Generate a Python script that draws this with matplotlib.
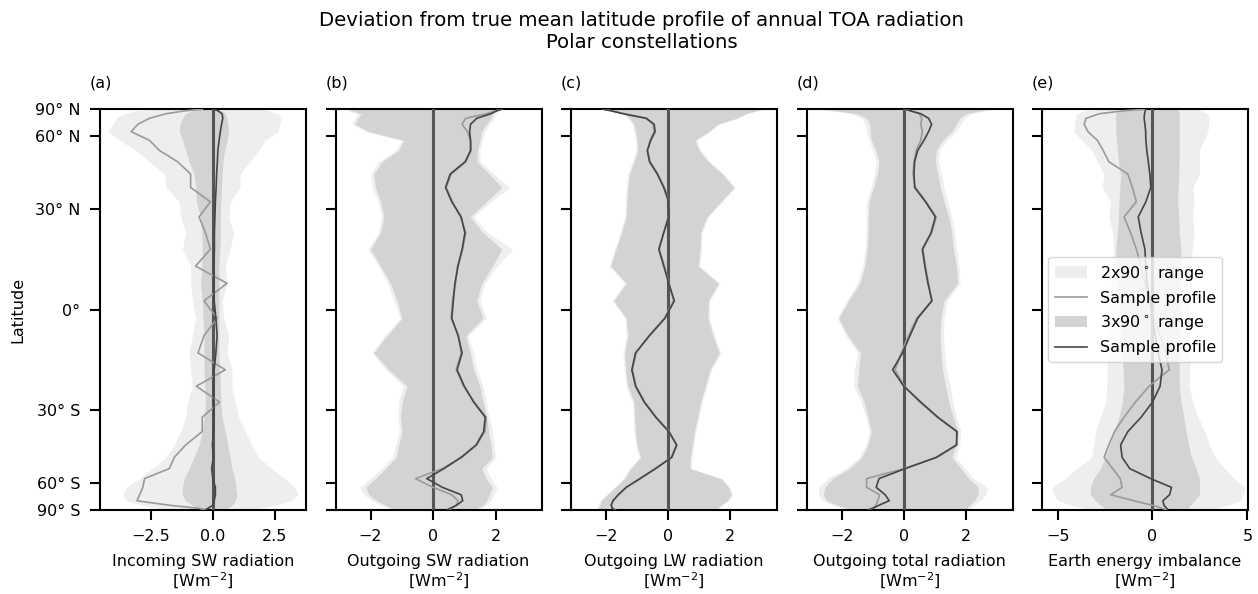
import numpy as np
import matplotlib
matplotlib.use("Agg")
import matplotlib.pyplot as plt

# Latitude bin centres (degrees), north to south
lat = [87.5, 82.5, 77.5, 72.5, 67.5, 62.5, 57.5, 52.5, 47.5, 42.5, 37.5, 32.5,
       27.5, 22.5, 17.5, 12.5, 7.5, 2.5, -2.5, -7.5, -12.5, -17.5, -22.5, -27.5,
       -32.5, -37.5, -42.5, -47.5, -52.5, -57.5, -62.5, -67.5, -72.5, -77.5, -82.5, -87.5]

# (a) Incoming SW radiation
isw_lo2 = [-2.2, -3.1, -3.63, -3.9, -4.03, -4.23, -3.76, -3.1, -2.56, -1.96, -1.9, -1.36,
           -1.3, -1.1, -1.23, -0.9, -0.9, -0.83, -0.7, -0.83, -0.96, -0.9, -0.83, -1.03,
           -1.1, -1.3, -1.56, -1.9, -2.43, -2.96, -3.5, -3.63, -3.5, -2.83, -2.16, -1.76]
isw_hi2 = [1.84, 2.24, 2.64, 2.75, 2.7, 2.64, 2.1, 1.84, 1.5, 1.1, 1.1, 0.7,
           0.64, 0.84, 0.7, 0.5, 0.57, 0.37, 0.44, 0.64, 0.57, 0.77, 0.77, 0.9,
           1.04, 1.3, 1.57, 1.84, 2.37, 2.9, 3.3, 3.44, 3.17, 2.5, 1.84, 1.04]
isw_lo3 = [-0.56, -0.83, -1.1, -1.23, -1.33, -1.36, -1.23, -1.1, -0.96, -0.76, -0.7, -0.67,
           -0.5, -0.45, -0.43, -0.45, -0.5, -0.43, -0.4, -0.36, -0.36, -0.36, -0.33, -0.3,
           -0.36, -0.43, -0.56, -0.76, -0.96, -1.16, -1.23, -1.23, -1.1, -0.83, -0.56, -0.36]
isw_hi3 = [0.17, 0.37, 0.5, 0.57, 0.6, 0.64, 0.57, 0.47, 0.41, 0.37, 0.35, 0.32,
           0.3, 0.3, 0.28, 0.24, 0.24, 0.24, 0.24, 0.24, 0.24, 0.27, 0.3, 0.32,
           0.37, 0.5, 0.6, 0.7, 0.77, 0.88, 0.93, 0.97, 0.9, 0.77, 0.6, 0.44]
isw_s2 = [-0.43, -1.1, -1.9, -2.56, -3.03, -3.3, -2.56, -2.16, -1.43, -0.9, -0.9, -0.1,
          -0.56, -0.3, -0.1, -0.7, 0.57, -0.36, 0.17, -0.36, -0.6, 0.5, -0.67, 0.27,
          -0.43, -0.43, -1.1, -1.56, -1.76, -2.76, -2.83, -2.96, -3.07, -1.76, -0.56, -0.3]
isw_s3 = [0.0, 0.2, 0.37, 0.4, 0.35, 0.3, 0.25, 0.2, 0.18, 0.15, 0.13, 0.1,
          0.08, 0.06, 0.06, 0.04, 0.05, 0.05, 0.12, 0.17, 0.12, 0.05, 0.02, 0.03,
          0.05, 0.02, -0.02, 0.02, -0.05, 0.0, 0.1, 0.1, 0.05, 0.0, -0.2, -0.3]

# (b) Outgoing SW radiation
osw_lo2 = [-2.75, -2.7, -2.4, -2.5, -2.6, -2.15, -1.0, -1.2, -1.75, -2.0, -1.95, -1.75,
           -1.65, -1.75, -2.08, -1.75, -1.45, -1.25, -1.05, -1.55, -1.95, -1.5, -0.95, -1.1,
           -1.12, -1.08, -1.2, -1.3, -1.65, -2.0, -2.35, -2.2, -1.95, -1.65, -1.4, -1.3]
osw_hi2 = [2.2, 2.1, 2.0, 1.95, 1.8, 1.65, 1.58, 1.5, 1.5, 1.95, 2.45, 1.85,
           1.3, 1.75, 2.55, 2.05, 1.65, 1.5, 1.7, 1.12, 1.3, 1.4, 1.6, 1.7,
           1.8, 1.9, 1.95, 2.0, 1.7, 1.85, 2.05, 1.95, 1.85, 1.7, 1.5, 1.45]
osw_lo3 = [-2.7, -2.6, -2.3, -2.4, -2.5, -2.05, -0.94, -1.1, -1.63, -1.9, -1.84, -1.68,
           -1.57, -1.68, -2.0, -1.68, -1.36, -1.15, -0.99, -1.47, -1.9, -1.41, -0.83, -0.99,
           -1.04, -0.99, -1.1, -1.18, -1.52, -1.84, -2.16, -2.05, -1.79, -1.52, -1.31, -1.2]
osw_hi3 = [2.15, 2.0, 1.9, 1.85, 1.7, 1.55, 1.5, 1.42, 1.4, 1.8, 2.2, 1.7,
           1.19, 1.6, 2.2, 1.9, 1.56, 1.4, 1.6, 1.05, 1.19, 1.3, 1.5, 1.6,
           1.72, 1.78, 1.85, 1.9, 1.56, 1.7, 1.9, 1.8, 1.72, 1.6, 1.4, 1.35]
osw_s2 = [2.2, 2.0, 1.7, 1.05, 0.93, 1.1, 1.2, 1.22, 1.05, 0.58, 0.42, 0.62,
          0.88, 1.05, 0.95, 0.78, 0.72, 0.62, 0.58, 0.82, 0.9, 0.74, 0.98, 1.32,
          1.7, 1.66, 1.4, 0.92, 0.3, -0.56, 0.0, 0.6, 0.8, 0.75, 0.6, 0.5]
osw_s3 = [2.2, 2.05, 1.85, 1.4, 1.2, 1.17, 1.2, 1.2, 1.03, 0.55, 0.4, 0.6,
          0.9, 1.02, 0.93, 0.8, 0.7, 0.65, 0.6, 0.8, 0.93, 0.77, 1.0, 1.3,
          1.67, 1.62, 1.38, 0.9, 0.35, -0.2, 0.3, 0.9, 0.95, 0.75, 0.55, 0.45]

# (c) Outgoing LW radiation
olw_lo2 = [-2.2, -1.95, -1.45, -1.3, -1.15, -1.1, -1.05, -1.03, -1.15, -1.3, -1.35, -1.38,
           -1.4, -1.55, -1.72, -1.9, -1.4, -1.8, -1.4, -1.35, -1.45, -1.42, -1.35, -1.15,
           -1.12, -1.1, -1.05, -0.93, -1.25, -1.45, -1.75, -2.0, -2.2, -2.25, -2.3, -2.3]
olw_hi2 = [3.15, 2.9, 2.55, 2.25, 1.65, 1.35, 0.92, 1.05, 1.35, 1.8, 2.17, 1.75,
           1.3, 1.1, 1.08, 1.02, 1.67, 1.35, 1.33, 1.5, 1.7, 1.4, 1.25, 1.1,
           1.0, 0.9, 0.83, 0.77, 0.75, 1.75, 2.0, 2.08, 1.95, 1.75, 1.65, 1.6]
olw_lo3 = [-2.15, -1.9, -1.4, -1.25, -1.1, -1.05, -1.0, -0.98, -1.1, -1.25, -1.3, -1.33,
           -1.35, -1.5, -1.68, -1.85, -1.35, -1.75, -1.35, -1.3, -1.4, -1.37, -1.3, -1.1,
           -1.08, -1.05, -1.0, -0.88, -1.2, -1.4, -1.7, -1.95, -2.15, -2.2, -2.25, -2.25]
olw_hi3 = [3.1, 2.85, 2.5, 2.2, 1.6, 1.3, 0.87, 1.0, 1.3, 1.75, 2.12, 1.7,
           1.25, 1.05, 1.03, 0.97, 1.62, 1.3, 1.28, 1.45, 1.65, 1.35, 1.2, 1.05,
           0.95, 0.85, 0.78, 0.72, 0.7, 1.7, 1.95, 2.03, 1.9, 1.7, 1.6, 1.55]
olw_s2 = [-2.1, -1.82, -1.42, -0.72, -0.48, -0.45, -0.58, -0.66, -0.58, -0.33, -0.12, 0.03,
          0.01, -0.15, -0.28, -0.12, 0.03, 0.18, -0.12, -0.62, -1.03, -1.15, -1.03, -0.75,
          -0.38, 0.04, 0.26, 0.1, -0.42, -0.92, -1.35, -1.62, -1.76, -1.85, -1.78, -1.7]
olw_s3 = [-2.1, -1.85, -1.45, -0.7, -0.45, -0.42, -0.56, -0.67, -0.6, -0.35, -0.14, 0.02,
          0.02, -0.14, -0.3, -0.14, 0.02, 0.2, -0.1, -0.6, -1.05, -1.17, -1.05, -0.77,
          -0.4, 0.02, 0.28, 0.12, -0.4, -0.9, -1.35, -1.6, -1.78, -1.83, -1.8, -1.72]

# (d) Outgoing total radiation
otr_lo2 = [-2.75, -2.35, -1.7, -1.35, -1.25, -1.2, -1.12, -1.0, -0.88, -0.95, -1.05, -1.2,
           -1.22, -1.22, -1.25, -1.33, -1.5, -1.85, -2.15, -1.88, -1.48, -1.6, -1.62, -1.38,
           -1.22, -1.12, -1.22, -1.45, -1.88, -2.45, -2.75, -2.75, -2.6, -2.3, -1.95, -1.75]
otr_hi2 = [2.8, 2.65, 2.15, 1.95, 1.85, 1.68, 1.38, 1.15, 1.12, 1.22, 1.3, 1.42,
           1.55, 1.65, 1.7, 1.78, 1.82, 1.4, 1.3, 1.28, 1.32, 1.38, 1.5, 1.58,
           1.7, 1.85, 1.8, 1.68, 1.98, 2.25, 2.7, 2.65, 2.45, 2.25, 2.15, 2.1]
otr_lo3 = [-2.63, -2.2, -1.5, -1.2, -1.1, -1.08, -1.05, -0.9, -0.8, -0.85, -0.98, -1.12,
           -1.15, -1.15, -1.18, -1.26, -1.42, -1.78, -2.1, -1.8, -1.4, -1.45, -1.5, -1.28,
           -1.15, -1.05, -1.15, -1.35, -1.75, -2.3, -2.55, -2.6, -2.48, -2.15, -1.8, -1.63]
otr_hi3 = [2.7, 2.5, 2.0, 1.8, 1.7, 1.55, 1.25, 1.05, 1.02, 1.1, 1.18, 1.3,
           1.45, 1.55, 1.6, 1.7, 1.74, 1.3, 1.2, 1.18, 1.2, 1.25, 1.35, 1.45,
           1.6, 1.75, 1.7, 1.55, 1.85, 2.1, 2.4, 2.4, 2.28, 2.1, 2.04, 2.02]
otr_s2 = [0.06, 0.2, 0.5, 0.58, 0.55, 0.6, 0.55, 0.4, 0.33, 0.3, 0.38, 0.72,
          1.05, 0.9, 0.62, 0.7, 0.8, 0.9, 0.42, 0.15, -0.08, -0.28, 0.02, 0.52,
          1.08, 1.7, 1.72, 1.08, 0.02, -1.2, -1.2, -0.78, -0.84, -0.9, -1.0, -1.12]
otr_s3 = [0.06, 0.2, 0.55, 0.8, 0.9, 0.8, 0.65, 0.45, 0.35, 0.33, 0.35, 0.7,
          1.02, 0.88, 0.6, 0.68, 0.78, 0.91, 0.45, 0.2, -0.04, -0.36, 0.0, 0.55,
          1.1, 1.72, 1.7, 1.05, 0.05, -0.8, -0.89, -0.6, -0.47, -0.8, -1.0, -1.15]

# (e) Earth energy imbalance
eei_lo2 = [-2.5, -3.6, -4.0, -4.05, -4.1, -4.15, -3.7, -3.2, -2.9, -2.56, -2.65, -2.2,
           -2.3, -2.1, -2.05, -2.1, -2.2, -2.3, -2.4, -2.3, -2.35, -2.4, -2.4, -2.47,
           -2.74, -3.0, -3.1, -3.2, -4.0, -4.6, -5.3, -5.2, -4.95, -4.3, -3.6, -3.2]
eei_hi2 = [2.4, 2.6, 2.9, 3.0, 2.95, 2.92, 2.7, 2.47, 2.47, 2.47, 2.12, 2.2,
           2.1, 2.2, 2.1, 2.0, 2.0, 1.95, 2.0, 1.95, 2.0, 1.95, 1.94, 2.12,
           2.4, 2.75, 3.0, 3.3, 3.8, 4.3, 4.86, 4.8, 4.6, 4.0, 3.4, 3.18]
eei_lo3 = [-1.5, -1.8, -1.94, -1.94, -1.94, -1.94, -1.9, -1.85, -1.8, -1.68, -1.72, -1.77,
           -1.8, -1.85, -1.94, -1.9, -1.8, -1.75, -1.7, -1.65, -1.6, -1.55, -1.5, -1.59,
           -1.77, -2.03, -2.25, -2.5, -2.74, -3.1, -3.27, -3.27, -3.0, -2.74, -2.5, -2.39]
eei_hi3 = [1.25, 1.35, 1.41, 1.41, 1.41, 1.41, 1.41, 1.41, 1.4, 1.38, 1.35, 1.33,
           1.38, 1.41, 1.5, 1.5, 1.45, 1.4, 1.4, 1.4, 1.4, 1.41, 1.41, 1.5,
           1.65, 1.77, 1.9, 2.05, 2.3, 2.47, 2.47, 2.47, 2.2, 2.0, 1.85, 1.77]
eei_s2 = [-0.35, -1.5, -2.8, -3.5, -3.6, -3.4, -2.9, -2.6, -2.3, -1.3, -1.06, -0.85,
          -1.5, -1.15, -0.85, -0.6, -0.4, -0.2, 0.1, 0.4, 0.7, 0.88, -0.18, -0.9,
          -1.5, -2.0, -2.3, -2.55, -2.1, -1.7, -1.6, -2.2, -1.0, 0.0, 0.5, 0.7]
eei_s3 = [-0.35, -0.38, -0.42, -0.44, -0.4, -0.36, -0.35, -0.3, -0.22, -0.14, -0.09, -0.35,
          -0.75, -0.6, -0.4, -0.35, -0.3, -0.1, 0.0, 0.15, 0.3, 0.5, 0.4, 0.0,
          -0.6, -1.3, -1.68, -1.6, -1.2, -0.1, 1.0, 0.9, 0.55, 0.6, 0.75, 0.8]

panel_tags = ["(a)", "(b)", "(c)", "(d)", "(e)"]
panel_names = ["Incoming SW radiation", "Outgoing SW radiation", "Outgoing LW radiation",
               "Outgoing total radiation", "Earth energy imbalance"]
lat_ticks = [90, 60, 30, 0, -30, -60, -90]
lat_ticklabels = ["90° N", "60° N", "30° N", "0°", "30° S", "60° S", "90° S"]
range_labels = ["2x90$^\\circ$ range", "3x90$^\\circ$ range"]
line_label = "Sample profile"

panels = [
    (isw_lo2, isw_hi2, isw_lo3, isw_hi3, isw_s2, isw_s3),
    (osw_lo2, osw_hi2, osw_lo3, osw_hi3, osw_s2, osw_s3),
    (olw_lo2, olw_hi2, olw_lo3, olw_hi3, olw_s2, olw_s3),
    (otr_lo2, otr_hi2, otr_lo3, otr_hi3, otr_s2, otr_s3),
    (eei_lo2, eei_hi2, eei_lo3, eei_hi3, eei_s2, eei_s3),
]
xlims = [(-4.56, 3.76), (-3.12, 3.47), (-3.13, 3.51), (-3.14, 3.51), (-5.82, 5.03)]
xticks = [[-2.5, 0.0, 2.5], [-2, 0, 2], [-2, 0, 2], [-2, 0, 2], [-5, 0, 5]]

plt.rcParams.update({
    "font.family": "DejaVu Sans",
    "font.size": 11.5,
    "axes.linewidth": 1.5,
    "xtick.major.size": 7,
    "ytick.major.size": 7,
    "xtick.major.width": 1.5,
    "ytick.major.width": 1.5,
    "xtick.major.pad": 7,
    "ytick.major.pad": 7,
    "axes.labelpad": 7,
})


def sin_lat(y):
    return np.sin(np.deg2rad(y))


def asin_lat(s):
    return np.rad2deg(np.arcsin(np.clip(s, -1, 1)))


W, H = 1258, 594
fig = plt.figure(figsize=(W / 100, H / 100), dpi=100)

light_fill = "#eeeeee"
dark_fill = "#d3d3d3"
light_line = "#9a9a9a"
dark_line = "#454545"

axes = []
for i, (lo2, hi2, lo3, hi3, s2, s3) in enumerate(panels):
    left = (100 + i * 235.5) / W
    rect = [left, 1 - 510 / H, 206 / W, 401 / H]
    ax = fig.add_axes(rect, sharey=axes[0] if axes else None)
    if not axes:
        ax.set_yscale("function", functions=(sin_lat, asin_lat))
    axes.append(ax)

    ax.fill_betweenx(lat, lo2, hi2, color=light_fill, lw=0, label=range_labels[0], zorder=1)
    ax.plot(s2, lat, color=light_line, lw=1.2, label=line_label, zorder=4)
    ax.fill_betweenx(lat, lo3, hi3, color=dark_fill, lw=0, label=range_labels[1], zorder=2)
    ax.plot(s3, lat, color=dark_line, lw=1.2, label=line_label, zorder=5)
    ax.axvline(0, color="#555555", lw=2.2, zorder=3)

    ax.set_xlim(*xlims[i])
    ax.set_xticks(xticks[i])
    if i == 0:
        ax.set_xticklabels(["−2.5", "0.0", "2.5"])
    ax.set_ylim(-90, 90)
    ax.set_yticks(lat_ticks)
    ax.set_xlabel(panel_names[i] + "\n[Wm$^{-2}$]", linespacing=1.1)
    ax.text(-0.05, 1.045, panel_tags[i], transform=ax.transAxes, ha="left", va="bottom")
    if i == 0:
        ax.set_yticklabels(lat_ticklabels)
        ax.set_ylabel("Latitude")
    else:
        ax.tick_params(labelleft=False)

axes[-1].legend(loc="center left", borderaxespad=0.4)

fig.suptitle("Deviation from true mean latitude profile of annual TOA radiation\nPolar constellations",
             fontsize=14.2, x=0.510, y=0.982)

fig.savefig("out.png", dpi=100)
